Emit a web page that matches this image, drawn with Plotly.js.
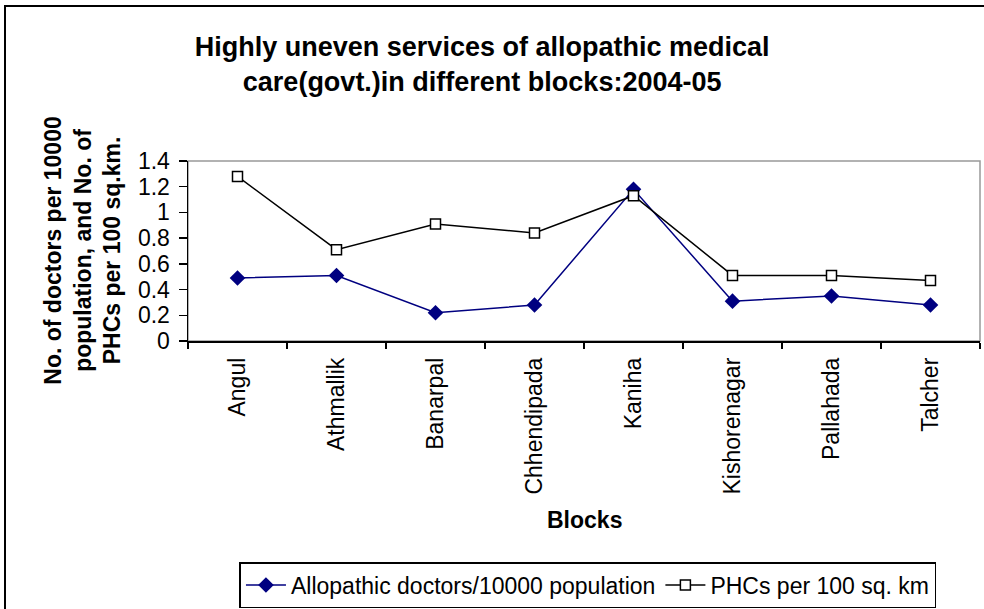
<!DOCTYPE html>
<html>
<head>
<meta charset="utf-8">
<script src="https://cdn.plot.ly/plotly-3.0.1.min.js"></script>
<style>
html,body{margin:0;padding:0;background:#fff;}
#wrap{position:relative;width:984px;height:609px;overflow:hidden;}
#frame{position:absolute;left:4px;top:5px;width:1000px;height:620px;border:2px solid #000;box-sizing:border-box;pointer-events:none;}
#chart{position:absolute;left:0;top:0;width:984px;height:609px;}
</style>
</head>
<body>
<div id="wrap"><div id="chart"></div><div id="frame"></div></div>
<script>
const blocks = ["Angul","Athmallik","Banarpal","Chhendipada","Kaniha","Kishorenagar","Pallahada","Talcher"];
const doctorsPer10000 = [0.49, 0.51, 0.22, 0.28, 1.18, 0.31, 0.35, 0.28];
const phcsPer100SqKm = [1.28, 0.71, 0.91, 0.84, 1.13, 0.51, 0.51, 0.47];
const yTicks = [0, 0.2, 0.4, 0.6, 0.8, 1, 1.2, 1.4];

const FONT = "Liberation Sans, Arial, sans-serif";

const traces = [
  {x: blocks, y: doctorsPer10000, type: "scatter", mode: "lines+markers",
   name: "Allopathic doctors/10000 population",
   line: {color: "#000080", width: 1.5},
   marker: {symbol: "diamond", size: 12, color: "#000080"}},
  {x: blocks, y: phcsPer100SqKm, type: "scatter", mode: "lines+markers",
   name: "PHCs per 100 sq. km",
   line: {color: "#000000", width: 1.5},
   marker: {symbol: "square", size: 10, color: "#ffffff", line: {color: "#000000", width: 1.5}}}
];

const layout = {
  width: 984, height: 609,
  margin: {l: 188, r: 4, t: 161, b: 267},
  paper_bgcolor: "#ffffff", plot_bgcolor: "#ffffff",
  font: {family: FONT, color: "#000", size: 23},
  showlegend: true,
  title: {text: "Highly uneven services of allopathic medical<br>care(govt.)in different blocks:2004-05",
          font: {size: 27, family: FONT, weight: "bold"},
          xref: "container", x: 0.49, xanchor: "center",
          yref: "container", y: 0.908, yanchor: "middle"},
  xaxis: {type: "category", range: [-0.5, 7.5], tickson: "boundaries",
          ticks: "outside", ticklen: 6, tickcolor: "#000", tickwidth: 1.5,
          showline: true, linecolor: "#000", linewidth: 1.5,
          showgrid: false, zeroline: false, tickangle: -90,
          tickfont: {size: 23}, automargin: false, ticklabelstandoff: 6},
  yaxis: {range: [0, 1.4], tickvals: yTicks, ticktext: yTicks.map(String),
          ticks: "outside", ticklen: 8, tickcolor: "#000", tickwidth: 1.5,
          showline: true, linecolor: "#000", linewidth: 1.5,
          showgrid: false, zeroline: false, tickfont: {size: 23}, automargin: false,
          ticklabelstandoff: 4},
  shapes: [
    {type: "rect", xref: "paper", yref: "paper", x0: 0, x1: 1, y0: 0, y1: 1,
     line: {color: "#999999", width: 1.5}, layer: "below"}
  ],
  annotations: [
    {text: "No. of doctors per 10000<br>population, and No. of<br>PHCs per 100 sq.km.",
     xref: "paper", yref: "paper", x: -0.133, y: 0.5, xanchor: "center", yanchor: "middle",
     textangle: -90, showarrow: false, font: {size: 23, weight: "bold"}, align: "center"},
    {text: "Blocks", xref: "paper", yref: "paper", x: 0.5, y: -0.994,
     xanchor: "center", yanchor: "middle", showarrow: false,
     font: {size: 23, weight: "bold"}}
  ],
  legend: {orientation: "h", x: 0.505, xanchor: "center", y: -1.343, yanchor: "middle",
           bordercolor: "#000", borderwidth: 1.5, bgcolor: "#fff",
           font: {size: 23}, itemwidth: 40, tracegroupgap: 0}
};

Plotly.newPlot("chart", traces, layout, {displayModeBar: false, staticPlot: true});
</script>
</body>
</html>
